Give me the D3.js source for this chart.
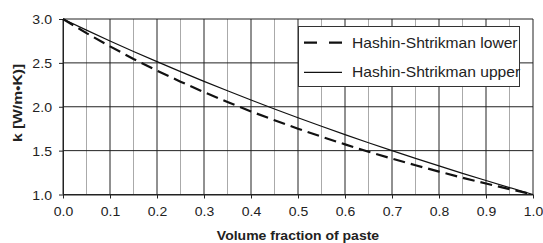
<!DOCTYPE html>
<html><head><meta charset="utf-8">
<script src="https://cdn.jsdelivr.net/npm/d3@7"></script>
<style>
html,body{margin:0;padding:0;background:#fff;}
svg{display:block;font-family:"Liberation Sans",Arial,sans-serif;}
</style></head>
<body><svg id="c" width="543" height="243"></svg>
<script>
const fractions = [0,0.05,0.1,0.15,0.2,0.25,0.3,0.35,0.4,0.45,0.5,0.55,0.6,0.65,0.7,0.75,0.8,0.85,0.9,0.95,1.0];
const hsLower = [3.0,2.839,2.688,2.545,2.412,2.286,2.167,2.054,1.947,1.846,1.75,1.659,1.571,1.488,1.409,1.333,1.261,1.191,1.125,1.061,1.0];
const hsUpper = [3.0,2.873,2.75,2.630,2.514,2.4,2.289,2.182,2.077,1.975,1.875,1.778,1.683,1.590,1.5,1.412,1.326,1.241,1.159,1.079,1.0];
const xTicks = [0,0.1,0.2,0.3,0.4,0.5,0.6,0.7,0.8,0.9,1.0];
const xMinor = [0.05,0.15,0.25,0.35,0.45,0.55,0.65,0.75,0.85,0.95];
const yTicks = [1.0,1.5,2.0,2.5,3.0];
const seriesNames = ["Hashin-Shtrikman lower","Hashin-Shtrikman upper"];
const xTitle = "Volume fraction of paste";
const yTitle = "k [W/m\u2022K)]";

const svg = d3.select("#c");
const x = d3.scaleLinear().domain([0,1]).range([63,533]);
const y = d3.scaleLinear().domain([1,3]).range([194.5,19]);
const dark = "#222", grey = "#aaa";

// minor vertical grid
svg.append("g").selectAll("line").data(xMinor).join("line")
  .attr("x1",d=>x(d)).attr("x2",d=>x(d)).attr("y1",y(3)).attr("y2",y(1))
  .attr("stroke",grey).attr("stroke-width",1);
// major vertical grid
svg.append("g").selectAll("line").data(xTicks).join("line")
  .attr("x1",d=>x(d)).attr("x2",d=>x(d)).attr("y1",y(3)).attr("y2",y(1))
  .attr("stroke",dark).attr("stroke-width",1);
// horizontal grid
svg.append("g").selectAll("line").data(yTicks).join("line")
  .attr("x1",x(0)).attr("x2",x(1)).attr("y1",d=>y(d)).attr("y2",d=>y(d))
  .attr("stroke",dark).attr("stroke-width",1);

// axes
const ya = svg.append("g").attr("transform",`translate(${x(0)},0)`)
  .call(d3.axisLeft(y).tickValues(yTicks).tickFormat(d3.format(".1f")).tickSize(4).tickSizeOuter(0));
ya.select(".domain").attr("stroke",dark);
ya.selectAll(".tick line").attr("stroke",dark);
ya.selectAll(".tick text").attr("x",0).attr("dy","0.36em").attr("text-anchor","end")
  .attr("transform","translate(-11,0) scale(1.13,1)")
  .attr("font-size",12.5).attr("fill","#222");

const xa = svg.append("g").attr("transform",`translate(0,${y(1)})`)
  .call(d3.axisBottom(x).tickValues(xTicks).tickFormat(d3.format(".1f")).tickSize(4).tickSizeOuter(0));
xa.select(".domain").attr("stroke",dark);
xa.selectAll(".tick line").attr("stroke",dark);
xa.selectAll(".tick text").attr("y",0).attr("dy",0).attr("text-anchor","middle")
  .attr("transform","translate(0,21) scale(1.12,1)")
  .attr("font-size",12.5).attr("fill","#222");

// series
const line = d3.line().x((d,i)=>x(fractions[i])).y(d=>y(d));
svg.append("path").datum(hsUpper).attr("d",line)
  .attr("fill","none").attr("stroke","#111").attr("stroke-width",1.2);
svg.append("path").datum(hsLower).attr("d",line)
  .attr("fill","none").attr("stroke","#111").attr("stroke-width",2.2)
  .attr("stroke-dasharray","12,6");

// legend
const lg = svg.append("g");
lg.append("rect").attr("x",298.5).attr("y",26.5).attr("width",221).attr("height",60)
  .attr("fill","#fff").attr("stroke","#333").attr("stroke-width",1);
const rows = [{name:seriesNames[0],dash:"13,12",w:2.2,yy:42.7},{name:seriesNames[1],dash:null,w:1.2,yy:72.3}];
rows.forEach(r=>{
  const l = lg.append("line").attr("x1",304).attr("x2",342).attr("y1",r.yy).attr("y2",r.yy)
    .attr("stroke","#111").attr("stroke-width",r.w);
  if(r.dash) l.attr("stroke-dasharray",r.dash);
  lg.append("text").attr("transform",`translate(352,${r.yy+5}) scale(1.04,1)`)
    .attr("font-size",15).attr("fill","#222").text(r.name);
});

// titles
svg.append("text").attr("transform","translate(298,240) scale(1.12,1)")
  .attr("text-anchor","middle").attr("font-weight","bold").attr("font-size",12.5)
  .attr("fill","#222").text(xTitle);
svg.append("text").attr("transform","translate(22,103) rotate(-90) scale(1.25,1)")
  .attr("text-anchor","middle").attr("font-weight","bold").attr("font-size",12.5)
  .attr("fill","#222").text(yTitle);
</script></body></html>
